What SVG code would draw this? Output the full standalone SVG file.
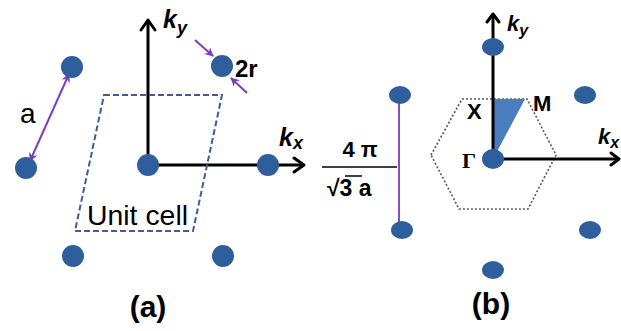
<svg xmlns="http://www.w3.org/2000/svg" width="621" height="331" viewBox="0 0 621 331">
<defs>
<style>
.dot{fill:#2f5e9c}
.axis{stroke:#000;stroke-width:3;fill:none}
.head{stroke:#000;stroke-width:3;fill:none;stroke-linecap:round;stroke-linejoin:round}
.pur{stroke:#7a3fbf;stroke-width:2;fill:none}
.lbl{font-family:"Liberation Sans",Arial,sans-serif;font-weight:bold;fill:#000}
.reg{font-family:"Liberation Sans",Arial,sans-serif;font-weight:normal;fill:#000}
.k{font-family:"Liberation Sans",Arial,sans-serif;font-weight:bold;font-style:italic;fill:#000}
</style>
<marker id="pa" viewBox="0 0 10 10" refX="9" refY="5" markerWidth="4.5" markerHeight="4.5" orient="auto-start-reverse">
<path d="M0,0 L10,5 L0,10 L3,5 Z" fill="#7a3fbf"/>
</marker>
</defs>
<rect width="621" height="331" fill="#fff"/>

<g id="connectors">
<line class="axis" x1="148" y1="165" x2="148" y2="20"/>
<polyline class="head" points="141,30 148,20 155,30"/>
<line class="axis" x1="148" y1="165" x2="304" y2="165"/>
<polyline class="head" points="294,158 304,165 294,172"/>
<line class="pur" x1="69" y1="74" x2="30" y2="161" marker-start="url(#pa)" marker-end="url(#pa)"/>
<line class="pur" x1="195" y1="40" x2="213" y2="56" marker-end="url(#pa)"/>
<line class="pur" x1="247" y1="93" x2="231" y2="78" marker-end="url(#pa)"/>
<polygon points="104,95 222,95 193,231 75,231" fill="none" stroke="#3a5f98" stroke-width="2" stroke-dasharray="6,3"/>

<polygon points="431,155 462,99 527,99 556,155 528,209 459,209" fill="none" stroke="#555a66" stroke-width="1.6" stroke-dasharray="2,2"/>
<polygon points="493,99 525,99 493,159" fill="#4a7dbf"/>
<line class="axis" x1="493" y1="159" x2="493" y2="14" stroke-width="2.5"/>
<polyline class="head" points="487,22 493,14 499,22" stroke-width="2.5"/>
<line class="axis" x1="493" y1="159" x2="619" y2="159" stroke-width="2.5"/>
<polyline class="head" points="611,153 619,159 611,165" stroke-width="2.5"/>
<line x1="399" y1="95" x2="399" y2="230" stroke="#8a4fb8" stroke-width="2"/>
<line x1="322" y1="167" x2="397" y2="167" stroke="#000" stroke-width="1.5"/>
<line x1="345" y1="176" x2="362" y2="176" stroke="#000" stroke-width="1.5"/>
</g>

<g id="dots-a">
<circle class="dot" cx="72" cy="67" r="11"/>
<circle class="dot" cx="26" cy="168" r="11"/>
<circle class="dot" cx="148" cy="165" r="11"/>
<circle class="dot" cx="268" cy="165" r="11"/>
<circle class="dot" cx="222" cy="66" r="11"/>
<circle class="dot" cx="73" cy="256" r="11"/>
<circle class="dot" cx="223" cy="256" r="11"/>
</g>

<g id="dots-b">
<ellipse class="dot" cx="493" cy="47" rx="11" ry="9"/>
<ellipse class="dot" cx="400" cy="95" rx="11" ry="9"/>
<ellipse class="dot" cx="402" cy="230" rx="11" ry="9"/>
<ellipse class="dot" cx="585" cy="95" rx="11" ry="9"/>
<ellipse class="dot" cx="590" cy="230" rx="11" ry="9"/>
<ellipse class="dot" cx="493" cy="270" rx="11" ry="9"/>
<ellipse class="dot" cx="493" cy="159" rx="11" ry="10"/>
</g>

<g id="labels-a">
<text class="k" x="163" y="28" font-size="25">k<tspan font-size="18" dy="6">y</tspan></text>
<text class="k" x="279" y="146" font-size="25">k<tspan font-size="18" dy="3">x</tspan></text>
<text class="lbl" x="235" y="77" font-size="24">2r</text>
<text class="reg" x="20" y="123" font-size="28">a</text>
<text class="reg" x="87" y="225" font-size="28" textLength="101" lengthAdjust="spacingAndGlyphs">Unit cell</text>
<text class="lbl" x="148" y="317" font-size="30" text-anchor="middle">(a)</text>
</g>

<g id="labels-b">
<text class="k" x="507" y="31" font-size="22">k<tspan font-size="16" dy="5">y</tspan></text>
<text class="k" x="598" y="144" font-size="22">k<tspan font-size="16" dy="4">x</tspan></text>
<text class="lbl" x="360" y="157" font-size="22" text-anchor="middle">4 π</text>
<text class="lbl" x="327" y="196" font-size="23">√3 a</text>
<text class="lbl" x="467" y="119" font-size="22">X</text>
<text class="lbl" x="533" y="111" font-size="22">M</text>
<text x="462" y="168" font-size="22" font-family="'Liberation Serif','Times New Roman',serif" font-weight="bold">Γ</text>
<text class="lbl" x="491" y="314" font-size="30" text-anchor="middle">(b)</text>
</g>
</svg>
